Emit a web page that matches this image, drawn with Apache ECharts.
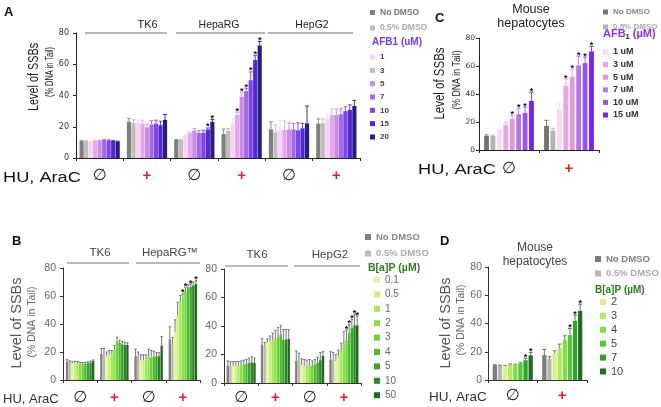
<!DOCTYPE html>
<html><head><meta charset="utf-8">
<script src="https://cdn.jsdelivr.net/npm/echarts@6.0.0/dist/echarts.min.js"></script>
<style>html,body{margin:0;padding:0;background:#fff}#c{width:661px;height:407px}</style>
</head><body><div id="c"></div>
<script>
// ---------------- DATA ----------------
// Panel A (AFB1, cell lines)
const aCategories = ['TK6 −','TK6 +','HepaRG −','HepaRG +','HepG2 −','HepG2 +'];
const aGroupLabels = ['TK6','HepaRG','HepG2'];
const aSeriesNames = ['No DMSO','0.5% DMSO','1','3','5','7','10','15','20'];
const aValues = [
  [10.8, 23.2, 11.5, 15.3, 18.3, 22.0],
  [10.8, 22.5, 11.5, 17.3, 16.5, 22.2],
  [10.5, 22.2, 14.5, 21.5, 17.8, 25.0],
  [10.9, 22.0, 15.8, 27.5, 17.9, 27.5],
  [10.9, 19.6, 17.6, 39.2, 18.2, 27.5],
  [11.5, 21.4, 16.0, 42.8, 18.3, 28.0],
  [11.3, 22.0, 16.2, 49.8, 17.8, 30.0],
  [10.9, 21.0, 18.2, 62.7, 19.0, 30.8],
  [10.5, 24.4, 23.2, 72.0, 22.2, 33.3]
];
const aErrors = [
  [0.3, 2.2, 0.3, 3.2, 4.9, 3.0],
  [0.3, 2.0, 0.4, 1.5, 4.7, 2.8],
  [0.3, 2.0, 0.6, 3.4, 6.4, 2.6],
  [0.3, 2.2, 0.8, 1.7, 5.8, 3.8],
  [0.3, 2.0, 1.2, 2.6, 4.3, 3.8],
  [0.3, 2.5, 1.5, 1.7, 3.8, 3.5],
  [0.3, 2.2, 1.5, 5.3, 4.7, 2.8],
  [0.3, 2.5, 1.0, 2.8, 3.2, 3.2],
  [0.3, 3.5, 1.5, 2.6, 11.1, 3.6]
];
const aStars = [[2,7],[2,8],[3,3],[3,4],[3,5],[3,6],[3,7],[3,8]]; // [category, series]

// Panel C (AFB1, mouse hepatocytes)
const cCategories = ['Mouse −','Mouse +'];
const cSeriesNames = ['No DMSO','0.5% DMSO','1 uM','3 uM','5 uM','7 uM','10 uM','15 uM'];
const cValues = [
  [10.0, 17.2],[10.0, 13.9],[14.3, 29.4],[17.9, 45.9],
  [22.2, 52.1],[25.6, 60.4],[26.5, 62.1],[35.1, 70.4]
];
const cErrors = [
  [0.8, 4.0],[0.6, 1.6],[0.5, 4.0],[1.9, 4.7],
  [2.4, 5.2],[4.2, 6.5],[4.1, 4.3],[6.2, 3.6]
];
const cStars = [[0,4],[0,5],[0,6],[0,7],[1,3],[1,4],[1,5],[1,6],[1,7]];

// Panel B left (B[a]P; TK6, HepaRG)
const bLCategories = ['TK6 −','TK6 +','HepaRG −','HepaRG +'];
const bLGroupLabels = ['TK6','HepaRG™'];
const bSeriesNames = ['No DMSO','0.5% DMSO','0.1','0.5','1','2','3','4','5','10','50'];
const bLValues = [
  [13.0, 18.5, 17.0, 29.0],
  [12.5, 19.0, 15.5, 25.0],
  [12.0, 17.0, 14.0, 34.5],
  [12.0, 18.0, 14.0, 46.0],
  [12.0, 18.5, 14.5, 55.5],
  [11.5, 21.5, 16.5, 59.0],
  [11.5, 28.0, 16.0, 63.5],
  [11.5, 26.5, 16.5, 66.0],
  [12.0, 25.5, 17.0, 66.5],
  [12.5, 25.0, 17.0, 67.5],
  [13.5, 25.0, 24.5, 68.5]
];
const bLErrors = [
  [1.5, 4.0, 5.0, 9.0],
  [1.2, 3.5, 4.5, 5.5],
  [1.0, 3.0, 4.0, 8.5],
  [1.5, 3.0, 4.0, 9.5],
  [1.2, 2.5, 3.5, 5.0],
  [1.0, 3.0, 5.5, 2.5],
  [1.0, 2.5, 5.0, 2.5],
  [1.0, 2.0, 4.0, 2.0],
  [1.0, 2.0, 2.5, 2.0],
  [1.0, 2.0, 2.5, 2.5],
  [0.8, 1.5, 6.5, 2.5]
];
const bLStars = [[3,5],[3,6],[3,8],[3,10]];

// Panel B right (B[a]P; TK6, HepG2)
const bRCategories = ['TK6 −','TK6 +','HepG2 −','HepG2 +'];
const bRGroupLabels = ['TK6','HepG2'];
const bRValues = [
  [12.0, 27.0, 15.5, 16.5],
  [12.0, 25.5, 14.5, 16.5],
  [12.0, 28.5, 12.5, 15.5],
  [12.0, 29.5, 12.0, 18.5],
  [12.0, 30.0, 12.0, 22.0],
  [12.5, 31.0, 12.5, 27.0],
  [13.0, 32.5, 12.0, 30.0],
  [13.5, 34.0, 13.0, 35.0],
  [14.0, 30.5, 14.0, 38.5],
  [14.5, 30.5, 16.0, 40.5],
  [14.0, 31.0, 19.0, 40.5]
];
const bRErrors = [
  [3.5, 4.0, 7.0, 5.5],
  [3.0, 3.0, 6.5, 5.0],
  [3.0, 2.5, 4.5, 4.5],
  [3.0, 3.5, 4.5, 4.5],
  [3.0, 5.0, 4.0, 6.0],
  [3.0, 6.0, 4.0, 9.0],
  [3.0, 6.5, 3.5, 7.0],
  [3.0, 6.5, 3.5, 6.0],
  [3.5, 7.0, 4.0, 6.0],
  [4.0, 7.0, 5.5, 7.5],
  [3.5, 6.5, 3.0, 6.5]
];
const bRStars = [[3,6],[3,7],[3,8],[3,9],[3,10]];

// Panel D (B[a]P, mouse hepatocytes)
const dCategories = ['Mouse −','Mouse +'];
const dSeriesNames = ['No DMSO','0.5% DMSO','2','3','4','5','7','10'];
const dValues = [
  [10.5, 17.6],[10.2, 14.8],[10.0, 18.8],[11.0, 22.4],
  [10.8, 28.2],[11.8, 31.8],[14.0, 41.9],[17.5, 48.9]
];
const dErrors = [
  [0.3, 4.0],[0.3, 1.7],[0.3, 1.9],[0.4, 3.0],
  [0.4, 3.1],[0.4, 4.7],[1.4, 4.0],[2.0, 4.7]
];
const dStars = [[0,6],[0,7],[1,5],[1,6],[1,7]];

const yTicks = [0, 20, 40, 60, 80];

// ---------------- STYLES ----------------
const FONT = "'Liberation Sans', Arial, sans-serif";
const colorsA = ['#7f7f7f','#bdbdbd','#f5d3f1','#e2a8e8','#c98ce2','#a468e6','#7c46ec','#5226d4','#2b1b88'];
const colorsC = ['#737373','#b3b3b3','#f8dbf1','#e9a6e3','#e596dc','#b577e2','#9656e8','#7a22ef'];
const colorsB = ['#808080','#b9b9b9','#e4f5a6','#ccef86','#abe75c','#8edf44','#6cd23a','#4dbb32','#38a42a','#298823','#1d6b1b'];
const colorsD = ['#7b7b7b','#b5b5b5','#d9f08c','#aee864','#83dc46','#54c834','#33a12a','#1f6f1e'];

const panels = [
  {key:'A', grid:{left:76, top:33, width:284, height:125}, cats:aCategories, names:aSeriesNames,
   vals:aValues, errs:aErrors, stars:aStars, colors:colorsA, catGap:0.15, barGap:0.08, errColor:null,
   yLabel:{fontSize:8, color:'#333', margin:7, fontFamily:'DejaVu Sans'}, axisColor:'#222', xMargin:10,
   sym:{n:16, p:15}},
  {key:'C', grid:{left:479, top:38, width:120, height:112}, cats:cCategories, names:cSeriesNames,
   vals:cValues, errs:cErrors, stars:cStars, colors:colorsC, catGap:0.17, barGap:0.33, errColor:null,
   yLabel:{fontSize:7.5, color:'#333', margin:4, fontFamily:'DejaVu Sans'}, axisColor:'#222', xMargin:11,
   sym:{n:16, p:15}},
  {key:'BL', grid:{left:63, top:268, width:137, height:112}, cats:bLCategories, names:bSeriesNames,
   vals:bLValues, errs:bLErrors, stars:bLStars, colors:colorsB, catGap:0.17, barGap:0.1, errColor:'#666',
   yLabel:{fontSize:10.5, color:'#666', margin:7, fontFamily:FONT}, axisColor:'#333', xMargin:10,
   sym:{n:16, p:15}},
  {key:'BR', grid:{left:224, top:269, width:137, height:114}, cats:bRCategories, names:bSeriesNames,
   vals:bRValues, errs:bRErrors, stars:bRStars, colors:colorsB, catGap:0.15, barGap:0.1, errColor:'#666',
   yLabel:{fontSize:10.5, color:'#666', margin:7, fontFamily:FONT}, axisColor:'#333', xMargin:7,
   sym:{n:16, p:15}},
  {key:'D', grid:{left:488, top:267, width:99, height:113}, cats:dCategories, names:dSeriesNames,
   vals:dValues, errs:dErrors, stars:dStars, colors:colorsD, catGap:0.19, barGap:0.2, errColor:'#666',
   yLabel:{fontSize:10.5, color:'#666', margin:6, fontFamily:FONT}, axisColor:'#333', xMargin:8,
   sym:{n:16, p:15}}
];

function makeRender(p) {
  return function (params, api) {
    const c = api.value(0), v = api.value(1), e = api.value(2), s = api.value(3), st = api.value(4);
    const n = p.names.length;
    const band = api.size([1, 0])[0];
    const avail = band * (1 - p.catGap);
    const w = avail / (n + (n - 1) * p.barGap);
    const cx = api.coord([c, 0])[0] - avail / 2 + s * w * (1 + p.barGap) + w / 2;
    const y0 = api.coord([c, v])[1], y1 = api.coord([c, v + e])[1];
    const col = p.errColor || p.colors[s];
    const cap = Math.max(w * 0.9, 2.4);
    const ch = [
      {type:'line', shape:{x1:cx, y1:y0, x2:cx, y2:y1}, style:{stroke:col, lineWidth:0.9}},
      {type:'line', shape:{x1:cx - cap / 2, y1:y1, x2:cx + cap / 2, y2:y1}, style:{stroke:col, lineWidth:0.9}}
    ];
    if (st) ch.push({type:'text', x:cx, y:y1 - 1, style:{text:'*', fill:'#111', fontSize:9, fontWeight:'bold',
      fontFamily:FONT, align:'center', verticalAlign:'middle'}});
    return {type:'group', children:ch};
  };
}

const grids = [], xAxes = [], yAxes = [], series = [];
panels.forEach((p, gi) => {
  grids.push(Object.assign({containLabel:false}, p.grid));
  xAxes.push({type:'category', gridIndex:gi, data:p.cats,
    axisLine:{lineStyle:{color:p.axisColor, width:1}},
    axisTick:{show:true, length:3, interval:0, lineStyle:{color:p.axisColor}},
    axisLabel:{interval:0, margin:p.xMargin,
      formatter: v => v.endsWith('+') ? '{p|+}' : '{n|∅}',
      rich:{n:{fontSize:p.sym.n, fontFamily:'DejaVu Sans', color:'#222'},
            p:{fontSize:p.sym.p, fontFamily:FONT, fontWeight:'bold', color:'#e3202a'}}}});
  yAxes.push({type:'value', gridIndex:gi, min:yTicks[0], max:yTicks[yTicks.length-1], interval:yTicks[1]-yTicks[0],
    axisLine:{show:true, lineStyle:{color:p.axisColor, width:1}},
    axisTick:{show:true, length:3, lineStyle:{color:p.axisColor}},
    splitLine:{show:false},
    axisLabel:Object.assign({}, p.yLabel)});
  p.names.forEach((nm, s) => {
    series.push({type:'bar', name:p.key + '|' + nm, xAxisIndex:gi, yAxisIndex:gi, data:p.vals[s],
      barGap:(p.barGap * 100) + '%', barCategoryGap:(p.catGap * 100) + '%',
      itemStyle:{color:p.colors[s]}, animation:false, silent:true});
  });
  const starSet = new Set(p.stars.map(a => a[0] + '_' + a[1]));
  const data = [];
  p.names.forEach((nm, s) => p.cats.forEach((c, ci) => {
    data.push([ci, p.vals[s][ci], p.errs[s][ci], s, starSet.has(ci + '_' + s) ? 1 : 0]);
  }));
  series.push({type:'custom', xAxisIndex:gi, yAxisIndex:gi, data:data, encode:{x:0, y:1},
    renderItem:makeRender(p), animation:false, silent:true, z:5});
});

// ---------------- LEGENDS ----------------
const fmt = n => n.split('|')[1];
function legendData(key, names, colorsText) {
  return names.map((n, i) => ({name:key + '|' + n, textStyle:colorsText ? {color:colorsText[i]} : undefined}));
}
const legends = [
  {left:370, top:8, itemGap:6.5, itemWidth:5, itemHeight:5,
   data:legendData('A', aSeriesNames.slice(0,2), ['#777','#aaa']),
   textStyle:{fontSize:8.5, fontWeight:'bold', fontFamily:FONT}},
  {left:370, top:53, itemGap:5.33, itemWidth:5, itemHeight:5,
   data:legendData('A', aSeriesNames.slice(2)),
   textStyle:{fontSize:8, fontWeight:'bold', color:'#444', fontFamily:FONT}},
  {left:603, top:8, itemGap:7, itemWidth:5, itemHeight:5,
   data:legendData('C', cSeriesNames.slice(0,2), ['#888','#aaa']),
   textStyle:{fontSize:8, fontWeight:'bold', fontFamily:FONT}},
  {left:603, top:47.5, itemGap:3.6, itemWidth:5, itemHeight:5,
   data:legendData('C', cSeriesNames.slice(2)),
   textStyle:{fontSize:9, fontWeight:'bold', color:'#333', fontFamily:FONT}},
  {left:365, top:232, itemGap:6.5, itemWidth:6, itemHeight:6,
   data:legendData('BL', bSeriesNames.slice(0,2), ['#888','#aaa']),
   textStyle:{fontSize:9.5, fontWeight:'bold', fontFamily:FONT}},
  {left:374, top:275, itemGap:4.4, itemWidth:6, itemHeight:6,
   data:legendData('BL', bSeriesNames.slice(2)),
   textStyle:{fontSize:10, color:'#666', fontFamily:FONT}},
  {left:595, top:254, itemGap:4.5, itemWidth:6, itemHeight:6,
   data:legendData('D', dSeriesNames.slice(0,2), ['#808080','#aaa']),
   textStyle:{fontSize:9.5, fontWeight:'bold', fontFamily:FONT}},
  {left:600, top:296.5, itemGap:2.9, itemWidth:6, itemHeight:6,
   data:legendData('D', dSeriesNames.slice(2)),
   textStyle:{fontSize:11, color:'#444', fontFamily:FONT}}
].map(l => Object.assign({orient:'vertical', padding:0, icon:'rect', selectedMode:false, formatter:fmt}, l));

// ---------------- ANNOTATIONS ----------------
function T(x, y, text, o) {
  o = o || {};
  return {type:'text', x:x, y:y, rotation:o.rot || 0, scaleX:o.sx || 1, scaleY:o.sy || 1, silent:true,
    style:{text:text, fontSize:o.fs || 12, fontFamily:o.ff || FONT, fontWeight:o.fw || 'normal',
      fill:o.c || '#222', align:o.al || 'center', verticalAlign:'middle', rich:o.rich}};
}
function L(x1, x2, y, c) {
  return {type:'line', silent:true, shape:{x1:x1, y1:y, x2:x2, y2:y}, style:{stroke:c || '#444', lineWidth:0.8}};
}
const R = Math.PI / 2;
const elements = [
  // Panel letters
  T(4, 12, 'A', {fs:13, fw:'bold', al:'left', c:'#111'}),
  T(435, 18, 'C', {fs:13, fw:'bold', al:'left', c:'#111'}),
  T(12, 241, 'B', {fs:13, fw:'bold', al:'left', c:'#111'}),
  T(440, 241, 'D', {fs:13, fw:'bold', al:'left', c:'#111'}),
  // Panel A
  T(34, 77, 'Level of SSBs', {fs:15.5, rot:R, sx:0.7, c:'#222'}),
  T(50, 72, '(% DNA in Tail)', {fs:10.5, rot:R, sx:0.7, c:'#222'}),
  T(3, 178, 'HU, AraC', {fs:14, sx:1.3, al:'left', c:'#111'}),
  T(147.5, 25, aGroupLabels[0], {fs:11, c:'#222'}),
  T(219, 25, aGroupLabels[1], {fs:10.5, c:'#222'}),
  T(312, 25, aGroupLabels[2], {fs:10.5, c:'#222'}),
  L(85, 167, 33), L(176, 265, 33), L(268, 353, 33),
  T(372, 42, 'AFB1 (uM)', {fs:10, fw:'bold', al:'left', c:'#6d3cf0'}),
  // Panel C
  T(531, 10, 'Mouse', {fs:12.5, c:'#222'}),
  T(531, 24, 'hepatocytes', {fs:12.5, c:'#222'}),
  T(440, 83.5, 'Level of SSBs', {fs:15.5, rot:R, sx:0.74, c:'#222'}),
  T(457, 80, '(% DNA in Tail)', {fs:10.5, rot:R, sx:0.83, c:'#222'}),
  T(418, 170, 'HU, AraC', {fs:14, sx:1.3, al:'left', c:'#111'}),
  T(603, 34, '{a|AFB}{s|1}{a| (µM)}', {al:'left', rich:{
     a:{fontSize:11, fontWeight:'bold', fill:'#8a32f0', color:'#8a32f0', fontFamily:FONT},
     s:{fontSize:7.5, fontWeight:'bold', color:'#8a32f0', fontFamily:FONT, padding:[5,0,0,0]}}}),
  // Panel B
  T(17, 323, 'Level of SSBs', {fs:14.5, rot:R, c:'#555'}),
  T(32, 322, '(% DNA in Tail)', {fs:10.5, rot:R, c:'#666'}),
  T(3, 399, 'HU, AraC', {fs:13, al:'left', c:'#333'}),
  T(100, 253, bLGroupLabels[0], {fs:11.5, c:'#444'}),
  T(170, 253, bLGroupLabels[1], {fs:11.5, c:'#444'}),
  L(67, 129, 263, '#555'), L(136, 200, 263, '#555'),
  T(257, 255, bRGroupLabels[0], {fs:11.5, c:'#444'}),
  T(330, 255, bRGroupLabels[1], {fs:11.5, c:'#444'}),
  L(225, 288, 266, '#555'), L(294, 360, 266, '#555'),
  T(368, 268, 'B[a]P (µM)', {fs:10.5, fw:'bold', al:'left', c:'#2f7d1c'}),
  // Panel D
  T(535, 248, 'Mouse', {fs:12, c:'#444'}),
  T(535, 262, 'hepatocytes', {fs:12, c:'#444'}),
  T(446, 323, 'Level of SSBs', {fs:14.5, rot:R, c:'#555'}),
  T(461, 320, '(% DNA in Tail)', {fs:10.5, rot:R, c:'#666'}),
  T(429, 397, 'HU, AraC', {fs:13.5, al:'left', c:'#333'}),
  T(595, 290, 'B[a]P (µM)', {fs:10, fw:'bold', al:'left', c:'#2f7d1c'})
];

const chart = echarts.init(document.getElementById('c'), null, {renderer:'canvas'});
chart.setOption({
  animation:false,
  backgroundColor:'#fff',
  textStyle:{fontFamily:FONT},
  grid:grids, xAxis:xAxes, yAxis:yAxes, series:series,
  legend:legends,
  graphic:{elements:elements}
});
</script></body></html>
